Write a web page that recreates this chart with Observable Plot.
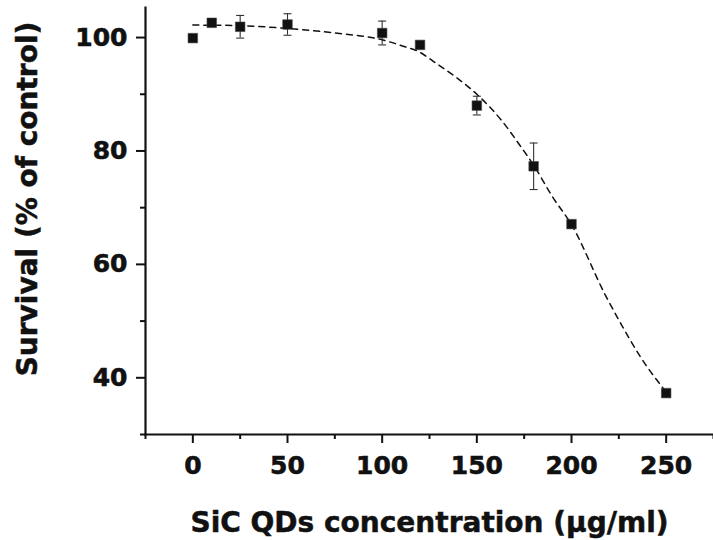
<!DOCTYPE html>
<html>
<head>
<meta charset="utf-8">
<script src="https://cdn.jsdelivr.net/npm/d3@7"></script>
<script src="https://cdn.jsdelivr.net/npm/@observablehq/plot@0.6"></script>
<style>
  html, body { margin: 0; padding: 0; background: #fff; }
</style>
</head>
<body>
<div id="chart"></div>
<script>
// Measured points
const concentration = [0, 10, 25, 50, 100, 120, 150, 180, 200, 250];
const survival      = [99.9, 102.6, 101.9, 102.3, 100.8, 98.7, 88.0, 77.3, 67.1, 37.3];
const errorSD       = [0, 0, 2.0, 1.9, 2.1, 0, 1.65, 4.1, 0.6, 0.5];

// Dashed fit curve
const fitX = [0, 25, 50, 75, 100, 110, 120, 127, 139, 150, 163, 174, 180, 190, 200, 218, 227, 236, 250];
const fitY = [102.2, 102.1, 101.6, 100.8, 99.6, 98.6, 97.4, 95.8, 93.0, 90.0, 85.4, 80.4, 77.5, 71.9, 67.0, 54.5, 49.0, 43.9, 37.5];

// Axis ticks
const xMajor = [0, 50, 100, 150, 200, 250];
const xMinor = [-25, 25, 75, 125, 175, 225, 275];
const yMajor = [40, 60, 80, 100];
const yMinor = [30, 50, 70, 90];

const points = concentration.map((c, i) => ({x: c, y: survival[i], e: errorSD[i]}));
const withErr = points.filter(d => d.e > 0);
const fit = fitX.map((x, i) => ({x, y: fitY[i]}));

const capSymbol = {
  draw(ctx, size) {
    const r = Math.sqrt(size / Math.PI);
    ctx.moveTo(-r, 0);
    ctx.lineTo(r, 0);
  }
};

const font = "DejaVu Sans, Verdana, sans-serif";

const chart = Plot.plot({
  width: 713,
  height: 540,
  marginLeft: 145,
  marginRight: 0,
  marginTop: 7,
  marginBottom: 106,
  style: {fontFamily: font, fontWeight: "bold", color: "#111", background: "#fff"},
  x: {domain: [-25, 275]},
  y: {domain: [30, 105.3]},
  marks: [
    Plot.axisY({ticks: yMinor, tickSize: 5, tickFormat: () => "", strokeWidth: 2, label: null}),
    Plot.axisY({ticks: yMajor, tickSize: 9, tickPadding: 9, strokeWidth: 2, fontSize: 25, fontWeight: "bold",
      label: "Survival (% of control)", labelAnchor: "center", labelArrow: "none", labelOffset: 128}),
    Plot.axisX({ticks: xMinor, tickSize: 5, tickFormat: () => "", strokeWidth: 2, label: null}),
    Plot.axisX({ticks: xMajor, tickSize: 9, tickPadding: 13, strokeWidth: 2, fontSize: 25, fontWeight: "bold",
      label: "SiC QDs concentration (μg/ml)", labelAnchor: "center", labelArrow: "none", labelOffset: 97}),
    Plot.frame({anchor: "left", strokeWidth: 2.2, stroke: "#111"}),
    Plot.frame({anchor: "bottom", strokeWidth: 2.2, stroke: "#111"}),
    Plot.line(fit, {x: "x", y: "y", curve: "monotone-x", stroke: "#111", strokeWidth: 1.5, strokeDasharray: "6,5"}),
    Plot.ruleX(withErr, {x: "x", y1: d => d.y - d.e, y2: d => d.y + d.e, stroke: "#333", strokeWidth: 1.1}),
    Plot.dot(withErr, {x: "x", y: d => d.y - d.e, symbol: capSymbol, r: 4, stroke: "#333", strokeWidth: 1.1, fill: "none"}),
    Plot.dot(withErr, {x: "x", y: d => d.y + d.e, symbol: capSymbol, r: 4, stroke: "#333", strokeWidth: 1.1, fill: "none"}),
    Plot.dot(points, {x: "x", y: "y", symbol: "square", r: 5.4, fill: "#111", stroke: "#444", strokeWidth: 0.6})
  ]
});

// Axis title font sizes and heavier text
chart.querySelectorAll("g[aria-label='y-axis label'] text, g[aria-label='x-axis label'] text").forEach(t => {
  t.setAttribute("font-size", "28");
  t.setAttribute("font-weight", "bold");
  t.setAttribute("stroke", "#111");
  t.setAttribute("stroke-width", "0.5");
});
// shift the y title up a little to match the reference's placement
chart.querySelectorAll("g[aria-label='y-axis label'] text").forEach(t => {
  const tr = t.getAttribute("transform") || "";
  const m = tr.match(/translate\(([-\d.]+),\s*([-\d.]+)\)/);
  if (m) t.setAttribute("transform", tr.replace(m[0], `translate(${m[1]},${(+m[2] - 22).toFixed(1)})`));
});
chart.querySelectorAll("g[aria-label='y-axis tick label'] text, g[aria-label='x-axis tick label'] text").forEach(t => {
  t.setAttribute("stroke", "#111");
  t.setAttribute("stroke-width", "0.6");
});

document.getElementById("chart").appendChild(chart);
</script>
</body>
</html>
